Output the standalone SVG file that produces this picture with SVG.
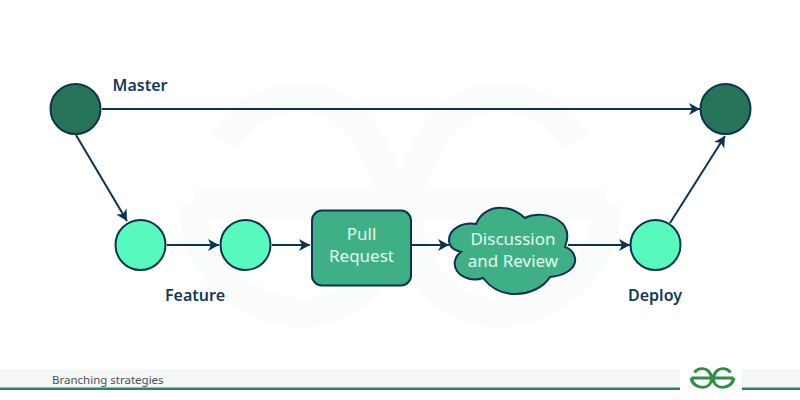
<svg xmlns="http://www.w3.org/2000/svg" width="800" height="400" viewBox="0 0 800 400">
<defs>
<marker id="arrow" markerUnits="userSpaceOnUse" markerWidth="14" markerHeight="14" refX="12" refY="7" orient="auto">
<path d="M1 1 L12 7 L1 13 L4 7 Z" fill="#0d3352"/>
</marker>
<path id="logo" fill="none" d="M-21 0 H21 M-18 -6.500 C-16 -9.500 -13 -11 -10 -11 C-5 -11 -2 -6 -0.500 0 M18 -6.500 C16 -9.500 13 -11 10 -11 C5 -11 2 -6 0.500 0 M-21 0 C-21 7 -15 11 -10 11 C-5 11 -1 7 -0.500 0 M21 0 C21 7 15 11 10 11 C5 11 1 7 0.500 0"/>
</defs>
<style>
text{font-family:"Noto Sans","Open Sans","Liberation Sans",sans-serif}
.lab{font-size:16px;font-weight:600;fill:#143a55;text-anchor:middle}
.in{font-size:17px;font-weight:400;fill:#e2fbef;text-anchor:middle}
.c{stroke:#0d3352;stroke-width:2;fill:none;marker-end:url(#arrow)}
.n{stroke:#0d3352;stroke-width:2}
.dark{fill:#27745a}
.light{fill:#58f9bc}
.box{fill:#3fb086}
</style>
<rect width="800" height="400" fill="#fff"/>
<use href="#logo" transform="translate(400 205) scale(9.800 9.800)" stroke="#fafcfb" stroke-width="3"/>
<rect x="0" y="369" width="800" height="19" fill="#f5f6f6"/>
<rect x="0" y="387.500" width="800" height="2.500" fill="#2f8460"/>
<rect x="680" y="362" width="62" height="30" fill="#fff"/>
<use href="#logo" transform="translate(712.500 378) scale(1 0.850)" stroke="#2f8d46" stroke-width="3.400"/>
<text x="52" y="384" style="font-size:11.500px;fill:#4c5157">Branching strategies</text>
<g id="connectors">
<path class="c" d="M102 109 H700"/>
<path class="c" d="M76 135 L127 221"/>
<path class="c" d="M167 245 H219"/>
<path class="c" d="M272 245 H310"/>
<path class="c" d="M412 245 H449"/>
<path class="c" d="M568 245 H630"/>
<path class="c" d="M670 223 L725 136"/>
</g>
<g id="node-master-start"><circle class="n dark" cx="75.500" cy="109" r="25"/><text class="lab" x="140" y="91">Master</text></g>
<g id="node-master-end"><circle class="n dark" cx="725.500" cy="109" r="25"/></g>
<g id="node-feature"><circle class="n light" cx="140.500" cy="245" r="25"/><text class="lab" x="195" y="301">Feature</text></g>
<g id="node-commit"><circle class="n light" cx="245.500" cy="245" r="25"/></g>
<g id="node-pull-request"><rect class="n box" x="312" y="210.500" width="99" height="75" rx="10"/><text class="in" x="361.500" y="240">Pull</text><text class="in" x="361.500" y="262">Request</text></g>
<g id="node-discussion"><path class="n box" d="M449 240 C449 229 462 222 476 224 C481 212 492 207 503 208 C511 208 520 213 525 218 C535 213 549 214 558 220 C566 225 570 234 565 247 C572 249 576 256 575 262 C573 271 562 276 550 277 C544 287 530 294 515 294 C501 294 490 287 483 278 C472 282 461 277 457 271 C453 265 454 257 461 252 C453 250 449 246 449 240 Z"/><text class="in" x="513" y="245">Discussion</text><text class="in" x="513" y="267">and Review</text></g>
<g id="node-deploy"><circle class="n light" cx="655.500" cy="245" r="25"/><text class="lab" x="655" y="301">Deploy</text></g>
</svg>
